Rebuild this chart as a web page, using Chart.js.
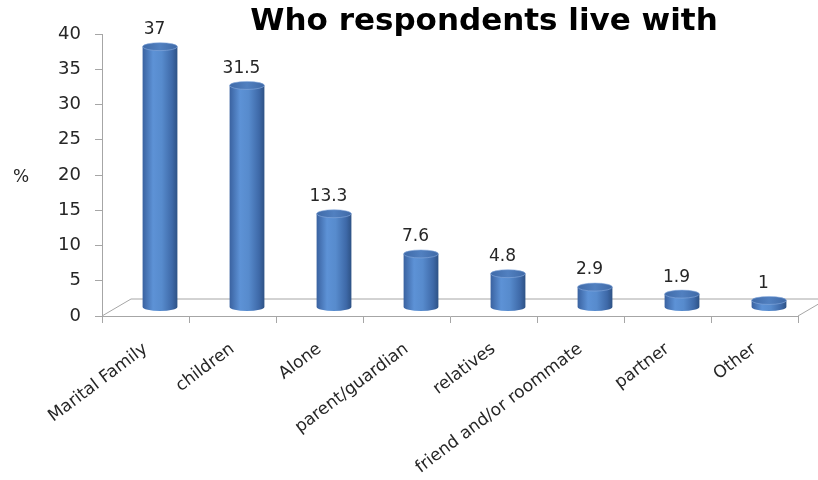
<!DOCTYPE html>
<html>
<head>
<meta charset="utf-8">
<script src="https://cdn.jsdelivr.net/npm/chart.js@4.4.1/dist/chart.umd.min.js"></script>
<style>
  html, body { margin: 0; padding: 0; background: #fff; }
  #wrap { width: 818px; height: 480px; }
</style>
</head>
<body>
<div id="wrap"><canvas id="liveWith"></canvas></div>
<script>
const categories = ["Marital Family", "children", "Alone", "parent/guardian", "relatives", "friend and/or roommate", "partner", "Other"];
const percentages = [37, 31.5, 13.3, 7.6, 4.8, 2.9, 1.9, 1];
const yMin = 0;
const yMax = 40;
const yStep = 5;
const chartTitle = "Who respondents live with";
const yAxisLabel = "%";

// depth of the 3d floor, cylinders sit half way back
const DEPTH_X = 29;
const DEPTH_Y = -17;
const AXIS_GREY = "#a6a6a6";
const TEXT = "#262626";

function drawCylinder(ctx, cx, top, base, w) {
  const rx = w / 2, ry = 4;
  const left = cx - rx, right = cx + rx;

  const side = ctx.createLinearGradient(left, 0, right, 0);
  side.addColorStop(0, "#3a62a0");
  side.addColorStop(0.3, "#5d92d6");
  side.addColorStop(0.55, "#578bcd");
  side.addColorStop(0.85, "#3e69a8");
  side.addColorStop(1, "#2e5285");
  ctx.beginPath();
  ctx.moveTo(left, top);
  ctx.lineTo(left, base);
  ctx.ellipse(cx, base, rx, ry, 0, Math.PI, 0, true);
  ctx.lineTo(right, top);
  ctx.closePath();
  ctx.fillStyle = side;
  ctx.fill();

  const cap = ctx.createLinearGradient(left, 0, right, 0);
  cap.addColorStop(0, "#3f6aa8");
  cap.addColorStop(0.5, "#5180c0");
  cap.addColorStop(1, "#3f69a6");
  ctx.beginPath();
  ctx.ellipse(cx, top, rx, ry, 0, 0, Math.PI * 2);
  ctx.fillStyle = cap;
  ctx.fill();
  ctx.strokeStyle = "rgba(140,175,225,0.7)";
  ctx.lineWidth = 0.8;
  ctx.stroke();
}

const floorPlugin = {
  id: "floor",
  beforeDatasetsDraw(chart) {
    const { ctx, chartArea: a } = chart;
    ctx.save();
    ctx.strokeStyle = AXIS_GREY;
    ctx.lineWidth = 1;
    ctx.beginPath();
    ctx.moveTo(a.left, a.bottom);
    ctx.lineTo(a.left + DEPTH_X, a.bottom + DEPTH_Y);
    ctx.lineTo(a.right + DEPTH_X, a.bottom + DEPTH_Y);
    ctx.lineTo(a.right, a.bottom);
    ctx.stroke();
    ctx.restore();
  }
};

const cylinderPlugin = {
  id: "cylinders",
  afterDatasetsDraw(chart) {
    const { ctx } = chart;
    const meta = chart.getDatasetMeta(0);
    const dx = DEPTH_X / 2, dy = DEPTH_Y / 2;
    ctx.save();
    meta.data.forEach((bar, i) => {
      const p = bar.getProps(["x", "y", "base", "width"], true);
      drawCylinder(ctx, p.x + dx, p.y + dy, p.base + dy, p.width);
      ctx.fillStyle = TEXT;
      ctx.font = "17px 'DejaVu Sans'";
      ctx.textAlign = "center";
      ctx.textBaseline = "middle";
      ctx.fillText(String(percentages[i]), p.x + 9, p.y + dy - 17);
    });
    ctx.restore();
  }
};

const textPlugin = {
  id: "extraText",
  afterDraw(chart) {
    const { ctx, chartArea: a } = chart;
    ctx.save();
    ctx.fillStyle = "#000";
    ctx.font = "bold 31px 'DejaVu Sans'";
    ctx.textAlign = "center";
    ctx.textBaseline = "middle";
    ctx.fillText(chartTitle, 484, 22);
    ctx.fillStyle = TEXT;
    ctx.font = "17px 'DejaVu Sans'";
    ctx.fillText(yAxisLabel, 21, (a.top + a.bottom) / 2 + 3);
    ctx.restore();
  }
};

new Chart(document.getElementById("liveWith"), {
  type: "bar",
  data: {
    labels: categories,
    datasets: [{
      label: yAxisLabel,
      data: percentages,
      backgroundColor: "rgba(0,0,0,0)",
      borderWidth: 0,
      categoryPercentage: 1,
      barPercentage: 0.4
    }]
  },
  options: {
    responsive: true,
    maintainAspectRatio: false,
    animation: false,
    layout: { padding: { top: 34, right: 20, left: 0, bottom: 0 } },
    plugins: {
      legend: { display: false },
      title: { display: false },
      tooltip: { enabled: false }
    },
    scales: {
      x: {
        offset: true,
        grid: { offset: true, drawOnChartArea: false, color: AXIS_GREY, tickLength: 7 },
        border: { color: AXIS_GREY },
        ticks: {
          autoSkip: false,
          minRotation: 37,
          maxRotation: 37,
          padding: 16,
          color: TEXT,
          font: { family: "DejaVu Sans", size: 17 }
        },
        afterFit(scale) { scale.height = 164; }
      },
      y: {
        min: yMin,
        max: yMax,
        ticks: {
          stepSize: yStep,
          padding: 14,
          color: TEXT,
          font: { family: "DejaVu Sans", size: 18 }
        },
        grid: { drawOnChartArea: false, color: AXIS_GREY, tickLength: 7 },
        border: { color: AXIS_GREY },
        afterFit(scale) { scale.width = 102; }
      }
    }
  },
  plugins: [floorPlugin, cylinderPlugin, textPlugin]
});
</script>
</body>
</html>
